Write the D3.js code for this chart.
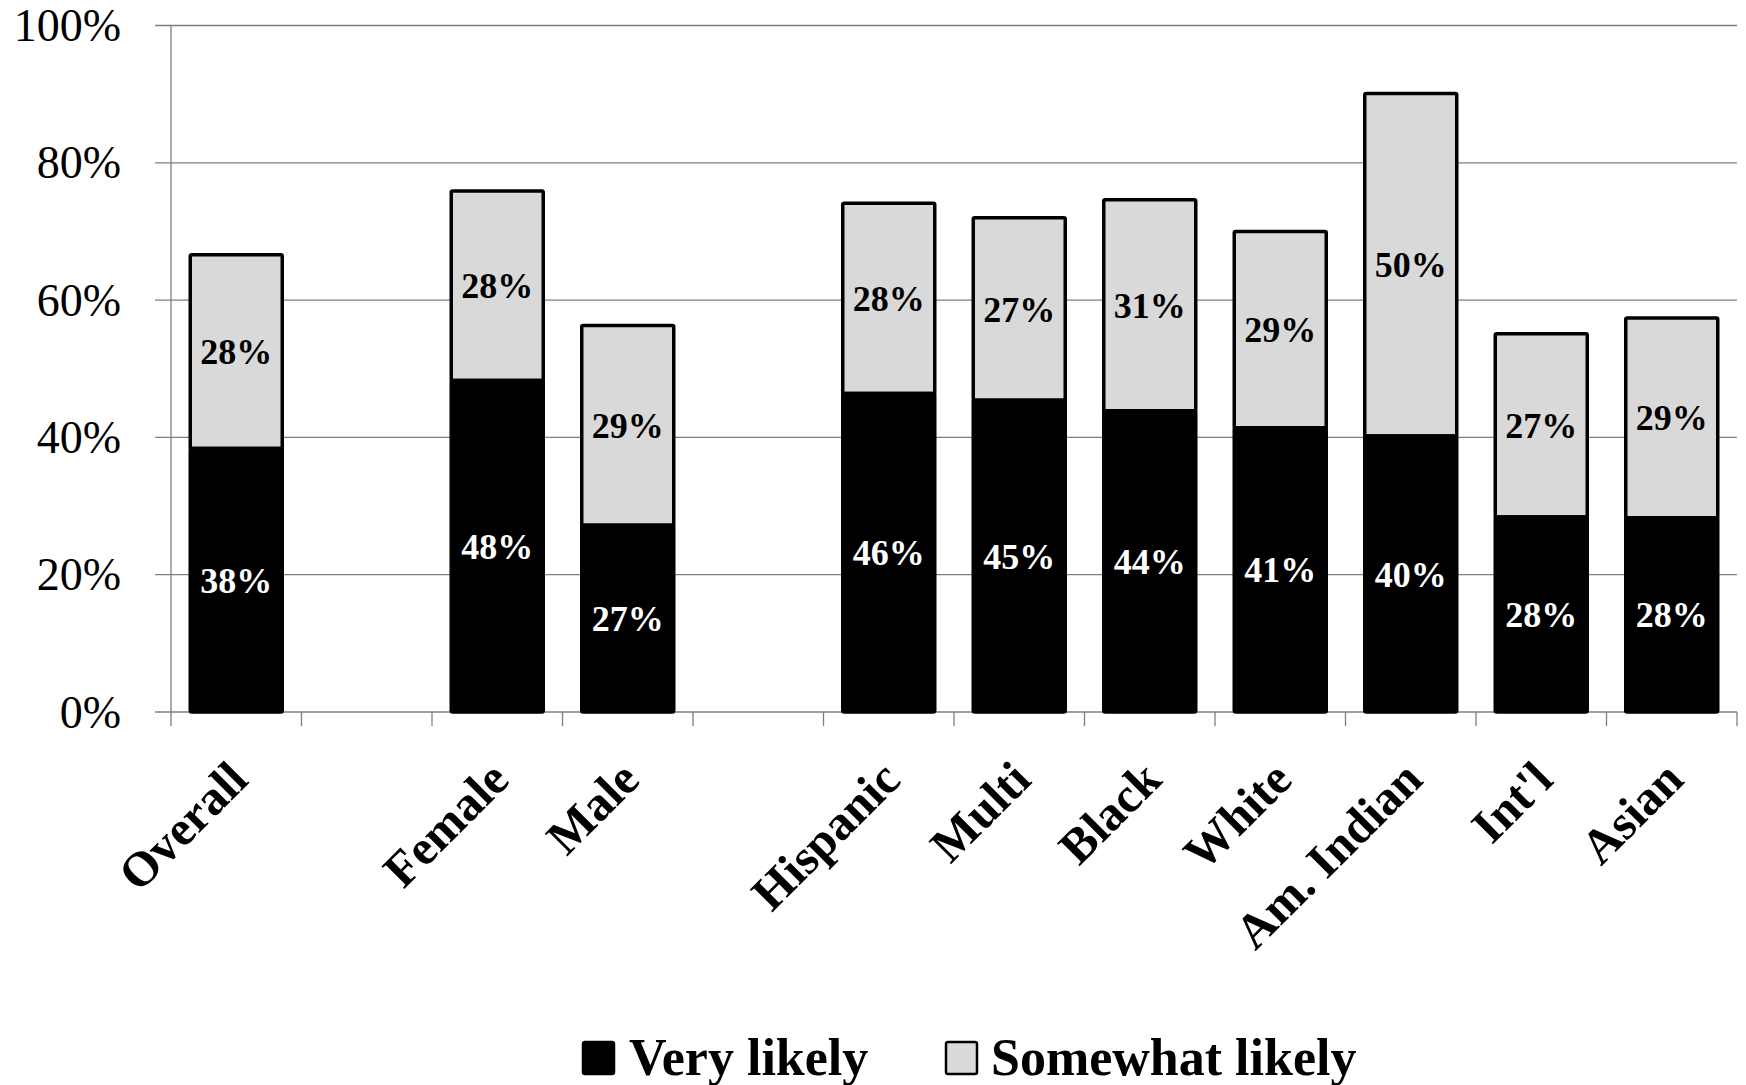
<!DOCTYPE html>
<html><head><meta charset="utf-8">
<script src="https://cdn.jsdelivr.net/npm/d3@7"></script>
<style>body{margin:0;background:#fff}svg{display:block}</style>
</head><body>
<svg id="c" width="1746" height="1085"></svg>
<script>
const categories = ["Overall","","Female","Male","","Hispanic","Multi","Black","White","Am. Indian","Int'l","Asian"];
const veryLikely = [38.4, null, 48.3, 27.2, null, 46.4, 45.4, 43.9, 41.4, 40.2, 28.4, 28.3];
const somewhatLikely = [28.2, null, 27.6, 29.1, null, 27.7, 26.6, 30.7, 28.6, 49.9, 26.7, 29.1];
const yTicks = [0, 20, 40, 60, 80, 100];
const seriesNames = ["Very likely", "Somewhat likely"];
const seriesColors = ["#000000", "#d9d9d9"];

const FONT = "'Liberation Serif','Times New Roman',serif";
const svg = d3.select("#c");
const plotL = 171, plotR = 1737, plotT = 25.5, plotB = 712;

const x = d3.scaleBand().domain(d3.range(categories.length)).range([plotL, plotR]).padding(0);
const y = d3.scaleLinear().domain([0, 100]).range([plotB, plotT]);
const barW = x.bandwidth() * 0.705;

// gridlines
svg.append("g").selectAll("line").data(yTicks).join("line")
  .attr("x1", plotL - 16).attr("x2", plotR)
  .attr("y1", d => y(d)).attr("y2", d => y(d))
  .attr("stroke", "#7f7f7f").attr("stroke-width", 1.3);

// y axis line
svg.append("line").attr("x1", plotL).attr("x2", plotL).attr("y1", plotT).attr("y2", plotB + 14)
  .attr("stroke", "#7f7f7f").attr("stroke-width", 1.3);

// x ticks at slot boundaries
const bounds = d3.range(1, categories.length + 1).map(i => i < categories.length ? x(i) : plotR);
svg.append("g").selectAll("line").data(bounds).join("line")
  .attr("x1", d => d).attr("x2", d => d).attr("y1", plotB).attr("y2", plotB + 14)
  .attr("stroke", "#7f7f7f").attr("stroke-width", 1.3);

// y labels
svg.append("g").selectAll("text").data(yTicks).join("text")
  .attr("x", 121).attr("y", d => y(d)).attr("dy", "0.34em")
  .attr("text-anchor", "end").attr("font-family", FONT).attr("font-size", 46)
  .text(d => d + "%");

// bars
const idx = d3.range(categories.length).filter(i => veryLikely[i] != null);
const g = svg.append("g");
idx.forEach(i => {
  const cx = x(i) + x.bandwidth() / 2;
  const v = veryLikely[i], s = somewhatLikely[i];
  g.append("rect").attr("x", cx - barW / 2).attr("width", barW)
    .attr("y", y(v + s)).attr("height", y(v) - y(v + s))
    .attr("fill", seriesColors[1]).attr("stroke", "#000").attr("stroke-width", 3.5).attr("rx", 1.5);
  g.append("rect").attr("x", cx - barW / 2).attr("width", barW)
    .attr("y", y(v)).attr("height", y(0) - y(v))
    .attr("fill", seriesColors[0]).attr("stroke", "#000").attr("stroke-width", 3.5).attr("rx", 1.5);
  g.append("text").attr("x", cx).attr("y", (y(0) + y(v)) / 2).attr("dy", "0.35em")
    .attr("text-anchor", "middle").attr("font-family", FONT).attr("font-weight", "bold")
    .attr("font-size", 36).attr("fill", "#fff").text(Math.round(v) + "%");
  g.append("text").attr("x", cx).attr("y", (y(v) + y(v + s)) / 2).attr("dy", "0.35em")
    .attr("text-anchor", "middle").attr("font-family", FONT).attr("font-weight", "bold")
    .attr("font-size", 36).attr("fill", "#000").text(Math.round(s) + "%");
});

// x labels
svg.append("g").selectAll("text").data(idx).join("text")
  .attr("transform", i => `translate(${x(i) + x.bandwidth() / 2 + 14},${plotB + 70}) rotate(-45)`)
  .attr("text-anchor", "end").attr("font-family", FONT).attr("font-weight", "bold")
  .attr("font-size", 49).text(i => categories[i]);

// legend
const leg = svg.append("g");
const legX = [583, 946], legT = [629, 991];
seriesNames.forEach((n, k) => {
  leg.append("rect").attr("x", legX[k]).attr("y", 1042).attr("width", 31).attr("height", 32)
    .attr("fill", seriesColors[k]).attr("stroke", "#000").attr("stroke-width", 2.5).attr("rx", 2);
  leg.append("text").attr("x", legT[k]).attr("y", 1075).attr("font-family", FONT)
    .attr("font-weight", "bold").attr("font-size", 52).text(n);
});
</script>
</body></html>
